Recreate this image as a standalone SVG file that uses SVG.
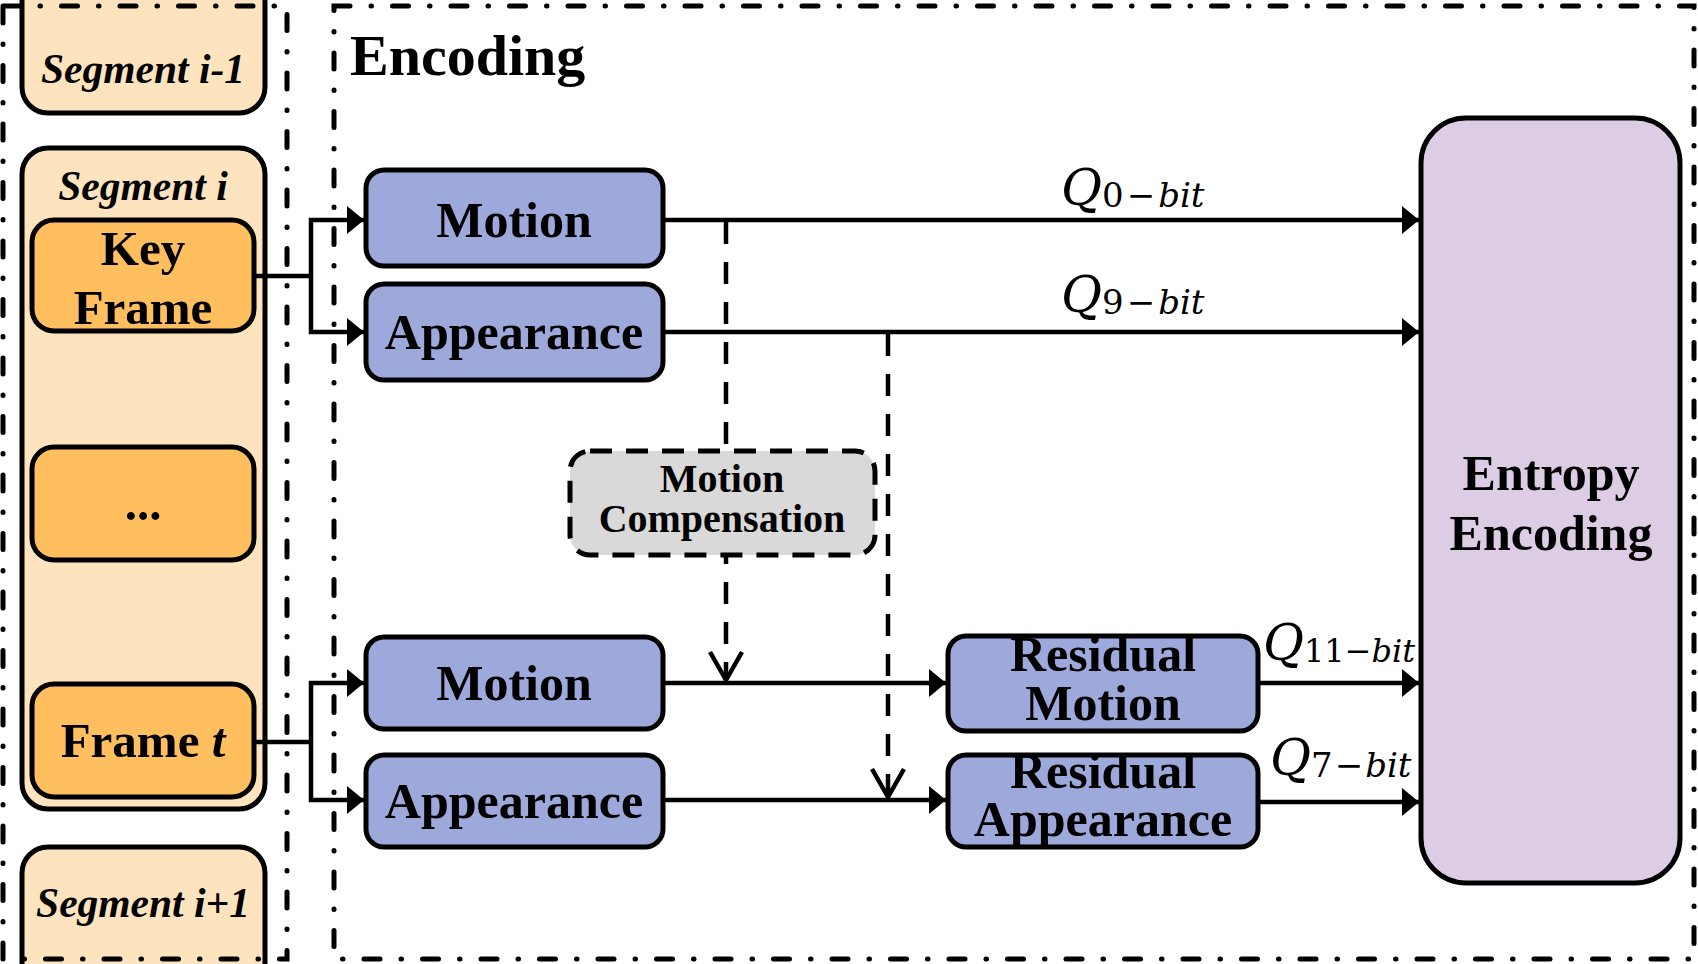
<svg xmlns="http://www.w3.org/2000/svg" width="1698" height="964" viewBox="0 0 1698 964">
<style>
.frame{fill:none;stroke:#000;stroke-width:5;stroke-linecap:round;stroke-dasharray:16 21 0.5 21}
.seg{fill:#FDE4BF;stroke:#000;stroke-width:5}
.frm{fill:#FFBF5F;stroke:#000;stroke-width:5}
.blue{fill:#9DA9DB;stroke:#000;stroke-width:5}
.ent{fill:#DCCCE4;stroke:#000;stroke-width:5}
.mc{fill:#D9D9D9;stroke:#000;stroke-width:5;stroke-dasharray:22 14}
.t{font-family:"Liberation Serif","Times New Roman",serif;font-weight:bold;font-size:50px;text-anchor:middle;fill:#000}
.to{font-family:"Liberation Serif","Times New Roman",serif;font-weight:bold;font-size:49px;text-anchor:middle;fill:#000}
.tm{font-family:"Liberation Serif","Times New Roman",serif;font-weight:bold;font-size:40px;text-anchor:middle;fill:#000}
.si{font-family:"Liberation Serif","Times New Roman",serif;font-weight:bold;font-style:italic;font-size:41.5px;text-anchor:middle;fill:#000}
.q{font-family:"DejaVu Serif",serif;font-size:34px;fill:#000}
.ln{fill:none;stroke:#000;stroke-width:4.5}
.dl{fill:none;stroke:#000;stroke-width:4.5;stroke-dasharray:22 18}
</style>
<defs>
<marker id="ah" markerUnits="userSpaceOnUse" markerWidth="20" markerHeight="30" refX="17" refY="14" orient="auto">
<path d="M0,0 L17,14 L0,28 z" fill="#000"/>
</marker>
<marker id="va" markerUnits="userSpaceOnUse" markerWidth="36" markerHeight="40" refX="30" refY="18" orient="auto">
<path d="M2,2 L30,18 L2,34" fill="none" stroke="#000" stroke-width="4.5"/>
</marker>
</defs>
<rect width="1698" height="964" fill="#fff"/>

<g id="segment-prev">
<rect class="seg" x="22" y="-40" width="243" height="153" rx="26"/>
<text class="si" x="143" y="83">Segment i-1</text>
</g>
<g id="segment-i">
<rect class="seg" x="22" y="148" width="243" height="661" rx="26"/>
<text class="si" x="143" y="200">Segment i</text>
</g>
<g id="key-frame">
<rect class="frm" x="32" y="220" width="222" height="111" rx="22"/>
<text class="to" x="143" y="265">Key</text>
<text class="to" x="143" y="324">Frame</text>
</g>
<g id="ellipsis">
<rect class="frm" x="32" y="447" width="222" height="113" rx="22"/>
<text class="to" x="143" y="520">...</text>
</g>
<g id="frame-t">
<rect class="frm" x="32" y="684" width="222" height="113" rx="22"/>
<text class="to" x="143" y="757">Frame <tspan font-style="italic">t</tspan></text>
</g>
<g id="segment-next">
<rect class="seg" x="22" y="847" width="243" height="170" rx="26"/>
<text class="si" x="143" y="917">Segment i+1</text>
</g>

<g id="frames">
<rect class="frame" x="3" y="6" width="284" height="953"/>
<rect class="frame" x="334" y="6" width="1360" height="953"/>
<text x="350" y="75" font-family="Liberation Serif, Times New Roman, serif" font-weight="bold" font-size="58">Encoding</text>
</g>

<g id="connectors">
<path class="ln" d="M254,276 H311"/>
<path class="ln" d="M311,276 V220 H364" marker-end="url(#ah)"/>
<path class="ln" d="M311,276 V332 H364" marker-end="url(#ah)"/>
<path class="ln" d="M254,742 H311"/>
<path class="ln" d="M311,742 V683 H364" marker-end="url(#ah)"/>
<path class="ln" d="M311,742 V800 H364" marker-end="url(#ah)"/>
<path class="ln" d="M663,220 H1419" marker-end="url(#ah)"/>
<path class="ln" d="M663,332 H1419" marker-end="url(#ah)"/>
<path class="ln" d="M663,683 H946" marker-end="url(#ah)"/>
<path class="ln" d="M663,800 H946" marker-end="url(#ah)"/>
<path class="ln" d="M1258,683 H1419" marker-end="url(#ah)"/>
<path class="ln" d="M1258,802 H1419" marker-end="url(#ah)"/>
<path class="dl" d="M726,222 V680" marker-end="url(#va)"/>
<path class="dl" d="M888,334 V797" marker-end="url(#va)"/>
</g>

<g id="labels">
<text class="q" x="1061" y="205"><tspan font-size="50" font-style="italic">Q</tspan><tspan dy="2">0</tspan><tspan dx="3">−</tspan><tspan dx="3" font-style="italic">bit</tspan></text>
<text class="q" x="1061" y="312"><tspan font-size="50" font-style="italic">Q</tspan><tspan dy="2">9</tspan><tspan dx="3">−</tspan><tspan dx="3" font-style="italic">bit</tspan></text>
<text class="q" x="1263" y="660" style="font-size:32px"><tspan font-size="50" font-style="italic">Q</tspan><tspan dy="2">11</tspan><tspan>−</tspan><tspan font-style="italic">bit</tspan></text>
<text class="q" x="1270" y="775"><tspan font-size="50" font-style="italic">Q</tspan><tspan dy="2">7</tspan><tspan dx="2">−</tspan><tspan dx="2" font-style="italic">bit</tspan></text>
</g>

<g id="motion-top">
<rect class="blue" x="366" y="170" width="297" height="96" rx="18"/>
<text class="t" x="514" y="237">Motion</text>
</g>
<g id="appearance-top">
<rect class="blue" x="366" y="284" width="297" height="96" rx="18"/>
<text class="t" x="514" y="349">Appearance</text>
</g>
<g id="motion-compensation">
<rect class="mc" x="570" y="451" width="305" height="104" rx="20"/>
<text class="tm" x="722" y="492">Motion</text>
<text class="tm" x="722" y="532">Compensation</text>
</g>
<g id="motion-bottom">
<rect class="blue" x="366" y="637" width="297" height="92" rx="18"/>
<text class="t" x="514" y="700">Motion</text>
</g>
<g id="appearance-bottom">
<rect class="blue" x="366" y="755" width="297" height="92" rx="18"/>
<text class="t" x="514" y="818">Appearance</text>
</g>
<g id="residual-motion">
<rect class="blue" x="948" y="636" width="310" height="95" rx="18"/>
<text class="t" x="1103" y="671">Residual</text>
<text class="t" x="1103" y="720">Motion</text>
</g>
<g id="residual-appearance">
<rect class="blue" x="948" y="755" width="310" height="92" rx="18"/>
<text class="t" x="1103" y="788">Residual</text>
<text class="t" x="1103" y="836">Appearance</text>
</g>
<g id="entropy-encoding">
<rect class="ent" x="1421" y="118" width="259" height="765" rx="45"/>
<text class="t" x="1551" y="490">Entropy</text>
<text class="t" x="1551" y="550">Encoding</text>
</g>
</svg>
